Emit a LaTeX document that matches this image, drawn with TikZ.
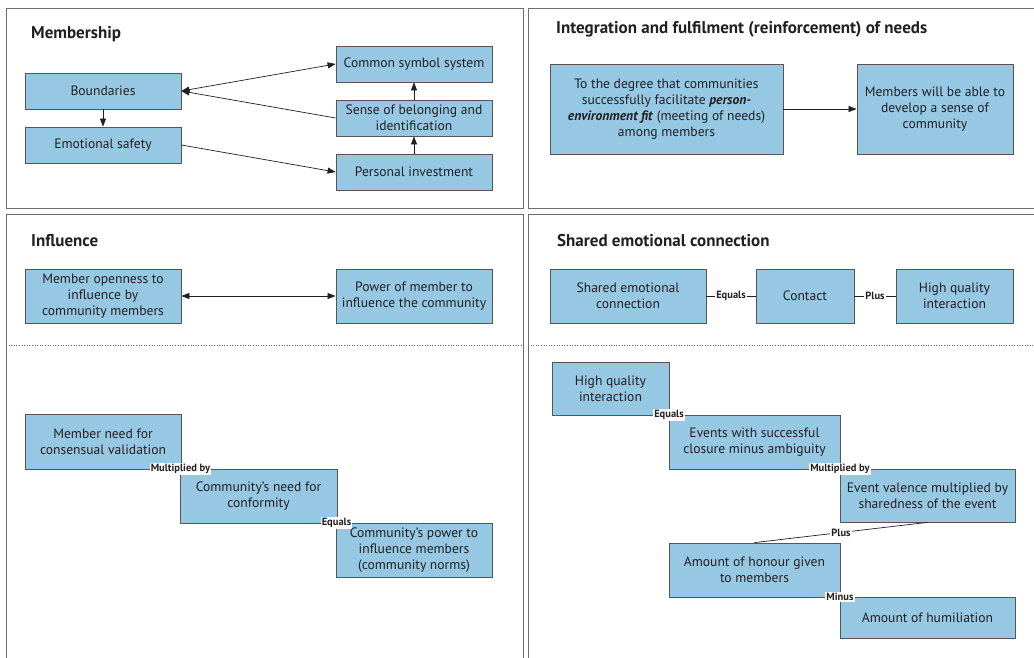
\documentclass[tikz,border=0pt]{standalone}
\usepackage{fontspec}
\setmainfont{PT Sans}
\usetikzlibrary{arrows.meta}
\definecolor{boxfill}{RGB}{150,200,228}
\definecolor{boxline}{RGB}{85,85,85}
\definecolor{panelline}{RGB}{110,110,110}
\definecolor{inkdark}{RGB}{35,31,32}
\tikzset{
  panel/.style={draw=panelline, line width=0.9pt},
  divider/.style={draw=panelline, line width=0.6pt, dotted},
  heading/.style={anchor=west, inner sep=0pt, font=\bfseries\fontsize{17}{18}\selectfont, text=inkdark},
  box/.style={draw=boxline, fill=boxfill, line width=0.8pt, align=center, inner sep=2pt,
    font=\fontsize{13.6}{16}\selectfont, text=inkdark},
  link/.style={draw=inkdark, line width=0.7pt},
  arr/.style={link, -{Triangle[length=8pt,width=6pt]}},
  dblarr/.style={link, {Triangle[length=8pt,width=6pt]}-{Triangle[length=8pt,width=6pt]}},
  lbl/.style={fill=white, inner sep=1pt, font=\bfseries\fontsize{10.5}{11}\selectfont, text=inkdark}
}
\begin{document}
\begin{tikzpicture}[x=1pt, y=-1pt]
\useasboundingbox (0,0) rectangle (1034,658);

% panel frames
\draw[panel] (6,8) rectangle (523,208);
\draw[panel] (528,8) rectangle (1045,208);
\draw[panel] (6,214) rectangle (523,670);
\draw[panel] (528,214) rectangle (1045,670);
\draw[divider] (6,345) -- (523,345);
\draw[divider] (528,345) -- (1045,345);

% ---------- Membership ----------
\node[heading] (tmem) at (31,34) {Membership};
\node[box, minimum width=156pt, minimum height=36pt] (bnd) at (103,91) {Boundaries};
\node[box, minimum width=156pt, minimum height=36pt] (emo) at (103,145) {Emotional safety};
\node[box, minimum width=156pt, minimum height=36pt] (css) at (414,64) {Common symbol system};
\node[box, minimum width=156pt, minimum height=36pt] (sob) at (414,118) {Sense of belonging and\\identification};
\node[box, minimum width=156pt, minimum height=36pt] (inv) at (414,172) {Personal investment};
\draw[arr] (bnd.south) -- (emo.north);
\draw[dblarr] (bnd.east) -- (css.west);
\draw[arr] (sob.west) -- (bnd.east);
\draw[arr] (emo.east) -- (inv.west);
\draw[arr] (inv.north) -- (sob.south);
\draw[arr] (sob.north) -- (css.south);

% ---------- Integration and fulfilment ----------
\node[heading] (tint) at (556,29) {Integration and fulfilment (reinforcement) of needs};
\node[box, minimum width=233pt, minimum height=90pt] (pef) at (666.5,109)
  {To the degree that communities\\successfully facilitate \textbf{\textit{person-}}\\\textbf{\textit{environment fit}} (meeting of needs)\\among members};
\node[box, minimum width=156pt, minimum height=90pt] (msc) at (935,109)
  {Members will be able to\\develop a sense of\\community};
\draw[arr] (pef.east) -- (msc.west);

% ---------- Influence ----------
\node[heading] (tinf) at (31,241) {Influence};
\node[box, minimum width=156pt, minimum height=54pt] (opn) at (103,296)
  {Member openness to\\influence by\\community members};
\node[box, minimum width=156pt, minimum height=54pt] (pow) at (414,296)
  {Power of member to\\influence the community};
\draw[dblarr] (opn.east) -- (pow.west);

\node[box, minimum width=156pt, minimum height=55pt] (mnv) at (103,441.5)
  {Member need for\\consensual validation};
\node[box, minimum width=157pt, minimum height=54pt] (cnc) at (258.5,496)
  {Community’s need for\\conformity};
\node[box, minimum width=156pt, minimum height=54pt] (cpi) at (414,550)
  {Community’s power to\\influence members\\(community norms)};
\draw[link] (mnv.south east) -- node[lbl] {Multiplied by} (cnc.north west);
\draw[link] (cnc.south east) -- node[lbl] {Equals} (cpi.north west);

% ---------- Shared emotional connection ----------
\node[heading] (tsec) at (557,241) {Shared emotional connection};
\node[box, minimum width=156pt, minimum height=54pt] (sec) at (628,296)
  {Shared emotional\\connection};
\node[box, minimum width=98pt, minimum height=54pt] (con) at (805,296) {Contact};
\node[box, minimum width=117pt, minimum height=54pt] (hqi) at (954.5,296)
  {High quality\\interaction};
\draw[link] (sec.east) -- node[lbl] {Equals} (con.west);
\draw[link] (con.east) -- node[lbl] {Plus} (hqi.west);

\node[box, minimum width=117pt, minimum height=53pt] (hq2) at (610.5,388.5)
  {High quality\\interaction};
\node[box, minimum width=171pt, minimum height=54pt] (evc) at (754.5,442)
  {Events with successful\\closure minus ambiguity};
\node[box, minimum width=175pt, minimum height=53pt] (evm) at (927.5,495.5)
  {Event valence multiplied by\\sharedness of the event};
\node[box, minimum width=171pt, minimum height=54pt] (hon) at (754.5,570)
  {Amount of honour given\\to members};
\node[box, minimum width=175pt, minimum height=41pt] (hum) at (927.5,617.5)
  {Amount of humiliation};
\draw[link] (hq2.south east) -- node[lbl] {Equals} (evc.north west);
\draw[link] (evc.south east) -- node[lbl] {Multiplied by} (evm.north west);
\draw[link] (evm.south) -- node[lbl] {Plus} (hon.north);
\draw[link] (hon.south east) -- node[lbl] {Minus} (hum.north west);
\end{tikzpicture}
\end{document}
